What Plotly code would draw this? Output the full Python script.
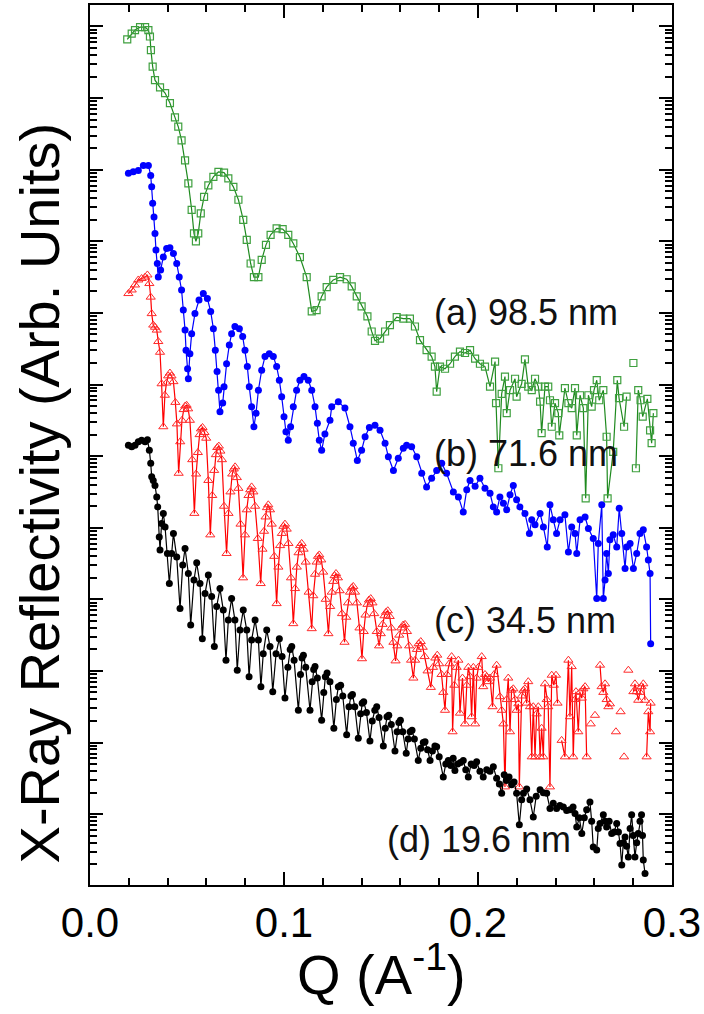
import plotly.graph_objects as go

# ---------------- data (Q in 1/Angstrom, log10 of reflectivity in arb. units) ----------------
a_q = [0.0192, 0.0215, 0.0232, 0.0258, 0.0284, 0.0301, 0.0309, 0.0314, 0.0323, 0.0335, 0.0361, 0.0387,
       0.0412, 0.0438, 0.0455, 0.0472, 0.0490, 0.0507, 0.0524, 0.0536, 0.0546, 0.0558, 0.0571, 0.0588,
       0.0610, 0.0636, 0.0662, 0.0691, 0.0713, 0.0739, 0.0765, 0.0790, 0.0808, 0.0828, 0.0845, 0.0868,
       0.0885, 0.0907, 0.0931, 0.0962, 0.0993, 0.1022, 0.1048, 0.1082, 0.1117, 0.1143, 0.1168, 0.1194,
       0.1220, 0.1254, 0.1289, 0.1323, 0.1349, 0.1375, 0.1400, 0.1430, 0.1452, 0.1469, 0.1495, 0.1521,
       0.1546, 0.1581, 0.1615, 0.1649, 0.1675, 0.1701, 0.1735, 0.1761, 0.1778, 0.1787, 0.1804, 0.1830,
       0.1856, 0.1881, 0.1907, 0.1933, 0.1959, 0.1985, 0.2010, 0.2036, 0.2062, 0.2088, 0.2093, 0.2105,
       0.2122, 0.2139, 0.2148, 0.2165, 0.2191, 0.2199, 0.2225, 0.2242, 0.2259, 0.2277, 0.2294, 0.2311,
       0.2320, 0.2328, 0.2345, 0.2362, 0.2371, 0.2380, 0.2397, 0.2414, 0.2419, 0.2448, 0.2466, 0.2483,
       0.2500, 0.2509, 0.2526, 0.2543, 0.2555, 0.2569, 0.2586, 0.2598, 0.2612, 0.2625, 0.2646, 0.2663,
       0.2668, 0.2697, 0.2718, 0.2727, 0.2753, 0.2766, None, 0.2801, None, 0.2814, 0.2826, 0.2838,
       0.2849, 0.2873, 0.2887, 0.2895, 0.2904]
a_log = [10.82, 10.90, 10.95, 10.99, 10.99, 10.95, 10.86, 10.67, 10.44, 10.25, 10.15, 10.07,
         9.93, 9.73, 9.60, 9.41, 9.13, 8.81, 8.44, 8.11, 8.00, 8.11, 8.39, 8.62,
         8.78, 8.90, 8.97, 8.96, 8.88, 8.76, 8.58, 8.30, 8.02, 7.69, 7.50, 7.50,
         7.74, 7.95, 8.09, 8.18, 8.17, 8.09, 7.97, 7.78, 7.50, 7.02, 7.04, 7.23,
         7.36, 7.46, 7.50, 7.47, 7.37, 7.23, 7.09, 6.95, 6.74, 6.61, 6.64, 6.74,
         6.83, 6.94, 6.92, 6.92, 6.81, 6.62, 6.48, 6.39, 6.25, 5.90, 6.25, 6.22,
         6.29, 6.39, 6.46, 6.44, 6.48, 6.36, 6.29, 6.25, 5.97, 6.32, 5.74, 4.83,
         5.87, 6.11, 5.60, 5.92, 6.08, 5.83, 6.01, 6.35, 5.97, 5.92, 6.08, 5.97,
         5.76, 5.32, 5.97, 5.97, 5.78, 5.41, 5.74, 5.60, 5.29, 5.95, 5.74, 5.67,
         5.95, 5.29, 5.85, 5.67, 4.41, 5.85, 5.69, 5.92, 6.06, 5.78, 5.92, 5.27,
         4.41, 5.06, 6.06, 5.81, 5.41, 5.83, None, 6.30, None, 4.83, 5.92, 5.78,
         5.55, 5.80, 5.36, 5.18, 5.60]

b_q = [0.0198, 0.0223, 0.0249, 0.0275, 0.0301, 0.0313, 0.0318, 0.0323, 0.0330, 0.0335, 0.0340, 0.0347,
       0.0352, 0.0364, 0.0378, 0.0395, 0.0412, 0.0430, 0.0447, 0.0460, 0.0472, 0.0481, 0.0490, 0.0495,
       0.0503, 0.0507, 0.0515, 0.0524, 0.0541, 0.0562, 0.0584, 0.0605, 0.0622, 0.0636, 0.0646, 0.0655,
       0.0663, 0.0670, 0.0684, 0.0691, 0.0704, 0.0718, 0.0730, 0.0747, 0.0770, 0.0787, 0.0799, 0.0811,
       0.0821, 0.0833, 0.0845, 0.0856, 0.0868, 0.0885, 0.0902, 0.0924, 0.0945, 0.0962, 0.0976, 0.0988,
       0.1000, 0.1010, 0.1022, 0.1034, 0.1048, 0.1065, 0.1082, 0.1103, 0.1125, 0.1143, 0.1160, 0.1172,
       0.1182, 0.1194, 0.1211, 0.1237, 0.1246, 0.1280, 0.1314, 0.1340, 0.1357, 0.1378, 0.1400, 0.1418,
       0.1440, 0.1469, 0.1495, 0.1521, 0.1538, 0.1564, 0.1589, 0.1615, 0.1632, 0.1658, 0.1684, 0.1710,
       0.1735, 0.1761, 0.1787, 0.1813, 0.1838, 0.1873, 0.1899, 0.1924, 0.1942, 0.1959, 0.1985, 0.2010,
       0.2036, 0.2062, 0.2079, 0.2096, 0.2113, 0.2131, 0.2148, 0.2165, 0.2182, 0.2199, 0.2216, 0.2242,
       0.2265, 0.2277, 0.2294, 0.2320, 0.2337, 0.2357, 0.2371, 0.2388, 0.2405, 0.2423, 0.2448, 0.2466,
       0.2483, 0.2500, 0.2509, 0.2526, 0.2552, 0.2569, 0.2594, 0.2612, 0.2620, 0.2638, 0.2646, 0.2655,
       0.2663, 0.2672, 0.2680, 0.2697, 0.2715, 0.2728, 0.2741, 0.2758, 0.2766, 0.2784, 0.2801, 0.2818,
       0.2835, 0.2852, 0.2869, 0.2878, 0.2887, 0.2890]
b_log = [8.95, 8.97, 8.99, 9.06, 9.06, 8.92, 8.76, 8.53, 8.34, 8.11, 7.88, 7.69,
         7.50, 7.60, 7.78, 7.90, 7.91, 7.83, 7.69, 7.50, 7.32, 7.04, 6.76, 6.48,
         6.22, 6.08, 6.43, 6.71, 6.99, 7.18, 7.27, 7.20, 7.02, 6.78, 6.48, 6.18,
         5.92, 5.62, 5.74, 5.97, 6.29, 6.55, 6.71, 6.81, 6.78, 6.67, 6.48, 6.25,
         5.97, 5.69, 5.41, 5.60, 5.92, 6.20, 6.39, 6.43, 6.39, 6.25, 6.06, 5.83,
         5.55, 5.34, 5.22, 5.41, 5.69, 5.92, 6.06, 6.11, 6.06, 5.92, 5.69, 5.46,
         5.22, 5.08, 5.31, 5.50, 5.69, 5.76, 5.67, 5.41, 5.18, 4.94, 5.08, 5.27,
         5.40, 5.43, 5.36, 5.18, 4.99, 4.80, 4.97, 5.11, 5.15, 5.13, 4.99, 4.76,
         4.57, 4.69, 4.80, 4.90, 4.76, 4.50, 4.43, 4.22, 4.53, 4.66, 4.58, 4.69,
         4.55, 4.48, 4.29, 4.22, 4.43, 4.34, 4.25, 4.46, 4.59, 4.39, 4.29, 4.20,
         3.92, 4.11, 4.04, 4.20, 4.01, 3.73, 4.32, 4.11, 3.92, 4.11, 4.18, 3.66,
         4.01, 3.92, 3.64, 4.11, 4.15, 3.99, 3.85, 3.01, 3.78, 4.32, 3.01, 3.27,
         3.64, 3.36, 3.83, 3.90, 3.73, 4.27, 3.92, 3.43, 3.73, 3.78, 3.43, 3.64,
         3.92, 3.97, 3.73, 3.55, 3.36, 2.38]

c_q = [0.0198, 0.0215, 0.0232, 0.0249, 0.0266, 0.0284, 0.0296, 0.0306, 0.0313, 0.0318, 0.0326, 0.0335,
       0.0344, 0.0352, 0.0361, 0.0369, 0.0378,
       0.0386, 0.0394, 0.0403, 0.0412, 0.0420, 0.0430, 0.0440, 0.0448, 0.0457,
       0.0465, 0.0474, 0.0483, 0.0491, 0.0498, 0.0506, 0.0515, 0.0527, 0.0538,
       0.0547, 0.0556, 0.0565, 0.0572, 0.0580, 0.0590, 0.0599, 0.0610, 0.0620,
       0.0630, 0.0640, 0.0649, 0.0656, 0.0664, 0.0672, 0.0680, 0.0691, 0.0704,
       0.0714, 0.0724, 0.0733, 0.0741, 0.0748, 0.0757, 0.0765, 0.0776, 0.0789,
       0.0799, 0.0808, 0.0817, 0.0826, 0.0833, 0.0842, 0.0851, 0.0865, 0.0880,
       0.0889, 0.0897, 0.0905, 0.0912, 0.0919, 0.0928, 0.0937, 0.0950, 0.0962,
       0.0971, 0.0980, 0.0989, 0.0997, 0.1005, 0.1014, 0.1023, 0.1036, 0.1048,
       0.1057, 0.1066, 0.1075, 0.1083, 0.1091, 0.1101, 0.1112, 0.1127, 0.1143,
       0.1151, 0.1160, 0.1168, 0.1175, 0.1182, 0.1192, 0.1202, 0.1215, 0.1229,
       0.1238, 0.1246, 0.1254, 0.1261, 0.1268, 0.1278, 0.1287, 0.1299, 0.1312,
       0.1321, 0.1330, 0.1340, 0.1349, 0.1357, 0.1366, 0.1376, 0.1389, 0.1402,
       0.1411, 0.1420, 0.1430, 0.1438, 0.1447, 0.1456, 0.1465, 0.1478, 0.1490,
       0.1499, 0.1508, 0.1518, 0.1526, 0.1535, 0.1545, 0.1553, 0.1564, 0.1575,
       0.1584, 0.1594, 0.1604, 0.1614, 0.1624, 0.1634, 0.1645, 0.1655, 0.1667,
       0.1676, 0.1685, 0.1694, 0.1705, 0.1715, 0.1725, 0.1740, 0.1757,
       0.1768, 0.1780, 0.1790, 0.1800, 0.1812, 0.1821, 0.1830,
       0.1840, 0.1852, 0.1864, 0.1869, 0.1878, 0.1890, 0.1899, 0.1907, 0.1920, 0.1933, 0.1942, 0.1950,
       0.1959, 0.1967, 0.1976, 0.1985, 0.1993, 0.2002, 0.2019, 0.2027, 0.2036, 0.2045, 0.2053, 0.2062,
       0.2075, 0.2083, 0.2096, 0.2113, 0.2122, 0.2131, 0.2139, 0.2148, 0.2156, 0.2165, 0.2173, 0.2182,
       0.2191, 0.2199, 0.2208, 0.2213, 0.2225, 0.2234, 0.2242, 0.2251, 0.2259, 0.2268, 0.2277, 0.2285,
       0.2294, 0.2302, 0.2311, 0.2320, 0.2328, 0.2337, 0.2345, 0.2354, 0.2362, 0.2371, 0.2380, 0.2391,
       0.2402, 0.2410, None, 0.2431, 0.2448, 0.2466, 0.2474, 0.2483, 0.2491, 0.2500, 0.2505, 0.2517,
       0.2526, 0.2535, 0.2543, 0.2552, 0.2560, None, 0.2581, None, 0.2603, None, 0.2629, 0.2637,
       0.2646, 0.2655, 0.2663, 0.2672, 0.2680, None, 0.2711, None, 0.2735, None, 0.2753, None,
       0.2775, None, 0.2801, 0.2809, 0.2818, 0.2826, 0.2835, 0.2843, 0.2852, 0.2861, None, 0.2869,
       0.2878, 0.2887, 0.2890]
c_log = [7.27, 7.32, 7.39, 7.46, 7.48, 7.50, 7.53, 7.41, 7.22, 6.99, 6.83, 6.80,
         6.76, 6.60, 6.45, 6.01, 5.41,
         5.85, 6.02, 6.12, 6.16, 6.12, 6.04, 5.75, 5.45, 4.76,
         5.20, 5.50, 5.65, 5.70, 5.71, 5.66, 5.50, 4.95, 4.20,
         4.75, 5.05, 5.30, 5.38, 5.40, 5.33, 5.25, 4.66, 3.90,
         4.45, 4.80, 5.02, 5.12, 5.14, 5.07, 4.95, 4.30, 3.64,
         4.20, 4.50, 4.75, 4.82, 4.85, 4.70, 4.55, 4.05, 3.30,
         3.90, 4.25, 4.45, 4.53, 4.57, 4.50, 4.30, 3.85, 3.22,
         3.70, 3.95, 4.15, 4.28, 4.32, 4.25, 4.05, 3.60, 2.94,
         3.45, 3.75, 3.92, 4.02, 4.05, 3.98, 3.78, 3.30, 2.66,
         3.15, 3.45, 3.65, 3.75, 3.78, 3.70, 3.52, 3.10, 2.59,
         3.05, 3.35, 3.52, 3.60, 3.62, 3.55, 3.38, 3.00, 2.52,
         2.90, 3.10, 3.25, 3.33, 3.36, 3.30, 3.12, 2.80, 2.40,
         2.75, 2.95, 3.10, 3.16, 3.18, 3.10, 2.95, 2.60, 2.17,
         2.55, 2.78, 2.93, 2.99, 3.01, 2.95, 2.80, 2.55, 2.35,
         2.52, 2.65, 2.77, 2.82, 2.84, 2.76, 2.60, 2.40, 2.14,
         2.35, 2.50, 2.60, 2.64, 2.65, 2.55, 2.35, 2.15, 1.90,
         2.15, 2.30, 2.38, 2.41, 2.33, 2.20, 2.00, 1.77,
         2.05, 2.18, 2.22, 2.10, 1.95, 1.70, 1.45,
         1.95, 2.10, 2.20, 1.15, 1.80, 2.05, 2.15, 1.41, 1.90, 1.26, 1.80, 2.05,
         1.92, 1.36, 2.05, 1.26, 1.90, 2.05, 2.20, 1.78, 1.95, 1.92, 1.85, 1.90,
         1.50, 1.95, 2.08, 1.64, 1.45, 1.26, 0.38, 1.60, 1.90, 1.15, 1.73, 1.75,
         1.60, 1.45, 1.54, 0.38, 1.65, 1.73, 1.75, 1.55, 1.85, 1.50, 0.80, 1.50,
         0.80, 1.40, 1.50, 0.80, 1.20, 0.80, 1.82, 1.60, 1.50, 0.38, 1.94, 1.80,
         1.94, 1.55, None, 1.03, 0.80, 2.15, 1.36, 2.06, 0.80, 1.60, 1.71, 1.15,
         1.70, 1.62, 1.75, 1.78, 0.80, None, 1.26, None, 1.38, None, 2.08, 1.78,
         1.70, 1.82, 1.60, 1.50, 1.54, None, 1.15, None, 1.43, None, 0.80, None,
         2.01, None, 1.71, 1.82, 1.71, 1.59, 1.70, 1.78, 1.82, 1.59, None, 0.80,
         1.43, 1.15, 1.55]

d_q = [0.0198, 0.0215, 0.0232, 0.0249, 0.0266, 0.0284, 0.0296, 0.0306, 0.0313, 0.0318, 0.0326, 0.0335,
       0.0344, 0.0349, 0.0357, 0.0361, 0.0369, 0.0378, 0.0387, 0.0399, 0.0409, 0.0421, 0.0430, 0.0447,
       0.0464, 0.0478, 0.0490, 0.0507, 0.0519, 0.0536, 0.0550, 0.0567, 0.0579, 0.0593, 0.0610, 0.0627,
       0.0641, 0.0653, 0.0670, 0.0687, 0.0701, 0.0713, 0.0730, 0.0747, 0.0759, 0.0773, 0.0790, 0.0808,
       0.0820, 0.0833, 0.0851, 0.0868, 0.0881, 0.0893, 0.0911, 0.0928, 0.0942, 0.0959, 0.0976, 0.0990,
       0.1005, 0.1020, 0.1032, 0.1040, 0.1052, 0.1074, 0.1085, 0.1093, 0.1100, 0.1112, 0.1134, 0.1145,
       0.1153, 0.1160, 0.1172, 0.1194, 0.1205, 0.1213, 0.1222, 0.1237, 0.1257, 0.1270, 0.1280, 0.1292,
       0.1303, 0.1323, 0.1335, 0.1345, 0.1353, 0.1365, 0.1383, 0.1395, 0.1403, 0.1411, 0.1425, 0.1443,
       0.1455, 0.1468, 0.1478, 0.1490, 0.1512, 0.1522, 0.1531, 0.1540, 0.1553, 0.1572, 0.1583, 0.1592,
       0.1600, 0.1612, 0.1630, 0.1640, 0.1650, 0.1660, 0.1672, 0.1692, 0.1705, 0.1718, 0.1727, 0.1740,
       0.1753, 0.1765, 0.1778, 0.1787, 0.1800, 0.1821, 0.1834, 0.1847, 0.1860, 0.1872, 0.1881, 0.1895,
       0.1910, 0.1924, 0.1937, 0.1950, 0.1965, 0.1980, 0.1993, 0.2010, 0.2027, 0.2045, 0.2062, 0.2079,
       0.2096, 0.2110, 0.2122, 0.2135, 0.2148, 0.2160, 0.2173, 0.2186, 0.2199, 0.2213, 0.2225, 0.2234,
       0.2251, 0.2268, 0.2285, 0.2300, 0.2320, 0.2337, 0.2354, 0.2371, 0.2388, 0.2405, 0.2422, 0.2440,
       0.2457, 0.2474, 0.2490, 0.2500, 0.2509, 0.2522, 0.2535, 0.2548, 0.2560, 0.2577, 0.2586, 0.2594,
       0.2612, 0.2620, 0.2629, 0.2646, 0.2655, 0.2663, 0.2676, 0.2689, 0.2702, 0.2715, 0.2724, 0.2732,
       0.2741, 0.2749, 0.2758, 0.2766, 0.2775, 0.2784, 0.2792, 0.2800, 0.2809, 0.2818, 0.2826, 0.2835,
       0.2843, 0.2848, 0.2852, 0.2861]
d_log = [5.15, 5.13, 5.15, 5.20, 5.22, 5.20, 5.23, 5.08, 4.90, 4.71, 4.66, 4.59,
         4.43, 4.29, 3.87, 3.69, 4.06, 4.20, 4.01, 3.64, 3.22, 3.64, 3.92, 3.59,
         2.87, 3.48, 3.71, 3.36, 2.64, 3.27, 3.51, 3.22, 2.45, 3.08, 3.34, 3.04,
         2.34, 2.90, 3.15, 2.85, 2.15, 2.71, 3.01, 2.71, 2.01, 2.57, 2.85, 2.57,
         1.92, 2.43, 2.71, 2.43, 1.78, 2.24, 2.57, 2.34, 1.71, 2.24, 2.45, 2.20,
         1.62, 2.05, 2.30, 2.34, 2.15, 1.45, 1.95, 2.18, 2.22, 2.05, 1.45, 1.85,
         2.02, 2.06, 1.90, 1.31, 1.70, 1.92, 1.97, 1.85, 1.20, 1.60, 1.78, 1.80,
         1.65, 1.11, 1.50, 1.65, 1.67, 1.50, 1.06, 1.40, 1.55, 1.57, 1.42, 1.02,
         1.30, 1.45, 1.50, 1.35, 0.95, 1.20, 1.36, 1.38, 1.25, 0.88, 1.15, 1.28,
         1.31, 1.15, 0.85, 1.05, 1.15, 1.17, 1.05, 0.75, 0.92, 1.00, 1.01, 0.90,
         0.75, 0.88, 0.95, 0.94, 0.80, 0.52, 0.70, 0.75, 0.68, 0.78, 0.61, 0.70,
         0.72, 0.75, 0.62, 0.52, 0.70, 0.68, 0.73, 0.60, 0.52, 0.62, 0.60, 0.66,
         0.50, 0.42, 0.29, 0.55, 0.47, 0.52, 0.41, 0.45, 0.29, -0.15, 0.20, 0.29,
         0.35, 0.20, -0.04, 0.25, 0.34, 0.30, 0.29, 0.08, 0.15, 0.08, 0.12, 0.10,
         0.05, 0.06, 0.10, 0.01, -0.18, -0.05, -0.27, -0.05, 0.06, 0.17, -0.10, -0.46,
         -0.50, -0.20, -0.13, -0.01, -0.10, -0.18, -0.10, -0.27, -0.25, -0.13, -0.25, -0.41,
         -0.71, -0.40, -0.32, -0.45, -0.60, -0.20, -0.01, -0.30, -0.60, -0.40, -0.27, -0.10,
         -0.01, -0.30, -0.64, -0.83]

labels = ["(a) 98.5 nm", "(b) 71.6 nm", "(c) 34.5 nm", "(d) 19.6 nm"]
label_q = [0.1763, 0.1763, 0.1763, 0.1520]
label_log = [7.00, 5.04, 2.71, -0.36]

x_tick_vals = [0.0, 0.1, 0.2, 0.3]
x_tick_text = ["0.0", "0.1", "0.2", "0.3"]

y_title = "X-Ray Reflectivity (Arb. Units)"
x_title = "Q (A<sup>-1</sup>)"

X_RANGE = [0.0, 0.3]
Y_RANGE_LOG = [-0.99, 11.30]


def to_linear(vals):
    return [None if v is None else 10 ** v for v in vals]


FONT = "Liberation Sans, Arial, Helvetica, sans-serif"
MAJOR = dict(ticks="inside", ticklen=13, tickwidth=2, tickcolor="black")
X_MINOR = dict(dtick=0.02, ticks="inside", ticklen=7, tickwidth=1.5, tickcolor="black")
Y_MINOR = dict(dtick="D1", ticks="inside", ticklen=7, tickwidth=1.5, tickcolor="black")

fig = go.Figure()

fig.add_trace(go.Scatter(
    x=a_q, y=to_linear(a_log), mode="lines+markers", name=labels[0],
    line=dict(color="#1f8a1f", width=1.2),
    marker=dict(symbol="square-open", size=7, color="#3fa03f", line=dict(width=1.2, color="#3fa03f")),
))
fig.add_trace(go.Scatter(
    x=b_q, y=to_linear(b_log), mode="lines+markers", name=labels[1],
    line=dict(color="#0000ff", width=1.2),
    marker=dict(symbol="circle", size=7, color="#0000ff"),
))
fig.add_trace(go.Scatter(
    x=c_q, y=to_linear(c_log), mode="lines+markers", name=labels[2],
    line=dict(color="#ff0000", width=1.2),
    marker=dict(symbol="triangle-up-open", size=8, color="#ff2a2a", line=dict(width=1.0, color="#ff2a2a")),
))
fig.add_trace(go.Scatter(
    x=d_q, y=to_linear(d_log), mode="lines+markers", name=labels[3],
    line=dict(color="#000000", width=1.2),
    marker=dict(symbol="circle", size=7, color="#000000"),
))

# empty helper traces so that the extra tick-only axes (top x2, bottom x3, right y2) get drawn
fig.add_trace(go.Scatter(x=[None], y=[None], xaxis="x2", yaxis="y", showlegend=False,
                         hoverinfo="skip", mode="markers"))
fig.add_trace(go.Scatter(x=[None], y=[None], xaxis="x3", yaxis="y", showlegend=False,
                         hoverinfo="skip", mode="markers"))
fig.add_trace(go.Scatter(x=[None], y=[None], xaxis="x", yaxis="y2", showlegend=False,
                         hoverinfo="skip", mode="markers"))

for txt, q, lg in zip(labels, label_q, label_log):
    fig.add_annotation(x=q, y=lg, xref="x", yref="y", text=txt, showarrow=False,
                       xanchor="left", yanchor="middle",
                       font=dict(family=FONT, size=36, color="#111111"))

# axis titles as free text so they can sit exactly where the reference puts them
fig.add_annotation(x=-0.086, y=0.446, xref="paper", yref="paper", text=y_title,
                   showarrow=False, textangle=-90, xanchor="center", yanchor="middle",
                   font=dict(family=FONT, size=56, color="black"))
fig.add_annotation(x=0.5, y=-0.097, xref="paper", yref="paper", text=x_title,
                   showarrow=False, xanchor="center", yanchor="middle",
                   font=dict(family=FONT, size=56, color="black"))

fig.update_layout(
    width=704, height=1014,
    margin=dict(l=90, r=32, t=5, b=129, autoexpand=False),
    paper_bgcolor="white", plot_bgcolor="white",
    showlegend=False,
    font=dict(family=FONT, color="black"),
    xaxis=dict(range=X_RANGE, tickmode="array", tickvals=x_tick_vals, ticktext=x_tick_text,
               ticks="", showline=True, linecolor="black", linewidth=2, mirror=True,
               showgrid=False, zeroline=False,
               tickfont=dict(family=FONT, size=42, color="black")),
    yaxis=dict(type="log", range=Y_RANGE_LOG, dtick=1, showticklabels=False,
               minor=Y_MINOR, showline=True, linecolor="black", linewidth=2, mirror=True,
               showgrid=False, zeroline=False, **MAJOR),
    xaxis2=dict(overlaying="x", side="top", anchor="y", range=X_RANGE,
                tickmode="array", tickvals=x_tick_vals, showticklabels=False,
                minor=X_MINOR, showline=False, showgrid=False, zeroline=False, **MAJOR),
    xaxis3=dict(overlaying="x", side="bottom", anchor="y", range=X_RANGE,
                tickmode="array", tickvals=x_tick_vals, showticklabels=False,
                minor=X_MINOR, showline=False, showgrid=False, zeroline=False, **MAJOR),
    yaxis2=dict(overlaying="y", side="right", anchor="x", type="log", range=Y_RANGE_LOG, dtick=1,
                showticklabels=False,
                minor=Y_MINOR, showline=False, showgrid=False, zeroline=False, **MAJOR),
)

fig.write_html("out.html")
